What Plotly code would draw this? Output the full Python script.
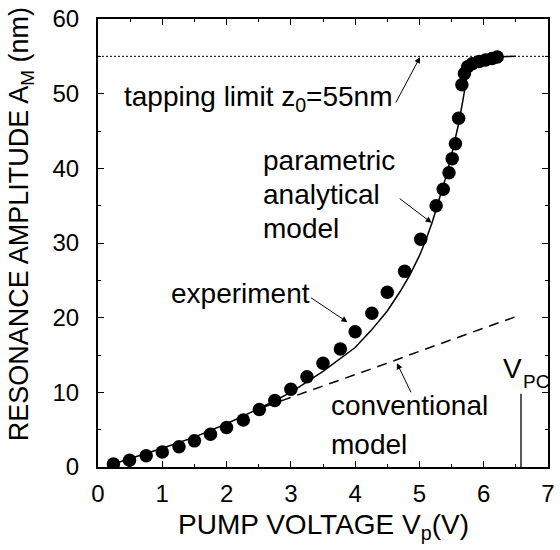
import plotly.graph_objects as go

# Measured resonance amplitude vs pump voltage
exp_v = [0.24, 0.49, 0.75, 1.0, 1.26, 1.5, 1.75, 2.0, 2.26, 2.51, 2.75, 3.0, 3.25, 3.5,
         3.77, 4.0, 4.26, 4.5, 4.77, 5.02, 5.26, 5.37, 5.46, 5.51, 5.56, 5.61, 5.66,
         5.70, 5.75, 5.82, 5.93, 6.03, 6.13, 6.21]
exp_a = [0.4, 0.9, 1.5, 2.0, 2.7, 3.5, 4.4, 5.3, 6.3, 7.7, 8.9, 10.4, 12.1, 13.9,
         15.8, 18.1, 20.6, 23.4, 26.2, 30.5, 35.0, 37.2, 39.4, 41.3, 43.3, 46.7, 51.2,
         52.7, 53.6, 54.0, 54.3, 54.5, 54.7, 54.9]

# Parametric analytical model
param_v = [0.2, 0.5, 1.0, 1.5, 2.0, 2.5, 3.0, 3.5, 4.0, 4.25, 4.5, 4.7, 4.85, 5.0,
           5.1, 5.2, 5.3, 5.4, 5.5, 5.6, 5.67, 5.73, 5.78, 5.85, 6.0, 6.2, 6.5]
param_a = [0.3, 1.1, 2.5, 4.0, 5.8, 7.8, 10.0, 12.8, 16.0, 18.3, 20.9, 23.5, 25.7, 28.3,
           30.4, 32.8, 35.5, 38.5, 41.8, 45.6, 48.8, 51.8, 53.6, 54.3, 54.7, 54.95, 55.0]

# Conventional model
conv_v = [2.6, 3.0, 3.5, 4.0, 4.5, 5.0, 5.5, 6.0, 6.52]
conv_a = [8.1, 9.3, 10.9, 12.4, 13.9, 15.5, 17.0, 18.6, 20.2]

# Tapping limit and critical pump voltage
z0 = 55
tap_v = [0, 7]
vpc = 6.58
vpc_a = [0, 9.8]

FONT = "Liberation Sans, Arial, Helvetica, sans-serif"

fig = go.Figure()
fig.add_trace(go.Scatter(x=tap_v, y=[z0, z0], mode="lines",
                         line=dict(color="black", width=1, dash="2px,2px")))
fig.add_trace(go.Scatter(x=conv_v, y=conv_a, mode="lines",
                         line=dict(color="black", width=1.5, dash="10px,7px")))
fig.add_trace(go.Scatter(x=param_v, y=param_a, mode="lines",
                         line=dict(color="black", width=1.5)))
fig.add_trace(go.Scatter(x=[vpc, vpc], y=vpc_a, mode="lines",
                         line=dict(color="black", width=1.3)))
fig.add_trace(go.Scatter(x=exp_v, y=exp_a, mode="markers",
                         marker=dict(color="black", size=13.5, symbol="circle")))

ann_font = dict(family=FONT, size=28, color="black")


def label(text, x, y, xanchor="left", yanchor="middle", align="left", font=ann_font):
    fig.add_annotation(x=x, y=y, xref="x", yref="y", text=text, showarrow=False,
                       xanchor=xanchor, yanchor=yanchor, align=align, font=font)


def pointer(x0, y0, x1, y1):
    fig.add_annotation(x=x1, y=y1, ax=x0, ay=y0, xref="x", yref="y", axref="x", ayref="y",
                       text="", showarrow=True, arrowhead=2, arrowsize=1.2,
                       arrowwidth=1, arrowcolor="black")


label("tapping limit z<sub>0</sub>=55nm", 0.38, 49.4)
pointer(4.62, 48.6, 5.01, 54.9)

label("parametric", 2.53, 41.0)
label("analytical", 2.53, 36.5)
label("model", 2.53, 32.0)
pointer(4.67, 36.1, 5.19, 32.7)

label("experiment", 1.1, 23.3)
pointer(3.29, 22.8, 3.88, 19.4)

label("conventional", 3.6, 8.2)
label("model", 3.6, 3.0)
pointer(4.88, 9.8, 4.65, 13.9)

# V_PC marker label: main letter plus a smaller subscript placed beside it
label("V", 6.27, 13.2, font=dict(family=FONT, size=28, color="black"))
label("PC", 6.575, 11.4, font=dict(family=FONT, size=19, color="black"))

fig.add_annotation(x=0.5, y=-0.133, xref="paper", yref="paper",
                   text="PUMP VOLTAGE V<sub>p</sub>(V)", showarrow=False,
                   xanchor="center", yanchor="middle", font=ann_font)
fig.add_annotation(x=-0.171, y=0.542, xref="paper", yref="paper",
                   text="RESONANCE AMPLITUDE A<sub>M</sub> (nm)", showarrow=False,
                   textangle=-90, xanchor="center", yanchor="middle",
                   font=dict(family=FONT, size=27, color="black"))

axis_common = dict(showline=True, linewidth=2, linecolor="black", mirror="ticks",
                   ticks="inside", ticklen=6, tickwidth=1.2, tickcolor="black",
                   showgrid=False, zeroline=False,
                   tickfont=dict(family=FONT, size=24, color="black"))

fig.update_xaxes(range=[0, 7], tick0=0, dtick=1, ticklabelstandoff=4,
                 minor=dict(dtick=0.5, ticks="inside", ticklen=3, tickcolor="black"),
                 **axis_common)
fig.update_yaxes(range=[0, 60], tick0=0, dtick=10, ticklabelstandoff=12,
                 minor=dict(dtick=5, ticks="inside", ticklen=3, tickcolor="black"),
                 **axis_common)

fig.update_layout(width=560, height=550, showlegend=False,
                  margin=dict(l=98, r=5, t=15, b=83),
                  plot_bgcolor="white", paper_bgcolor="white")

fig.write_html("out.html")
